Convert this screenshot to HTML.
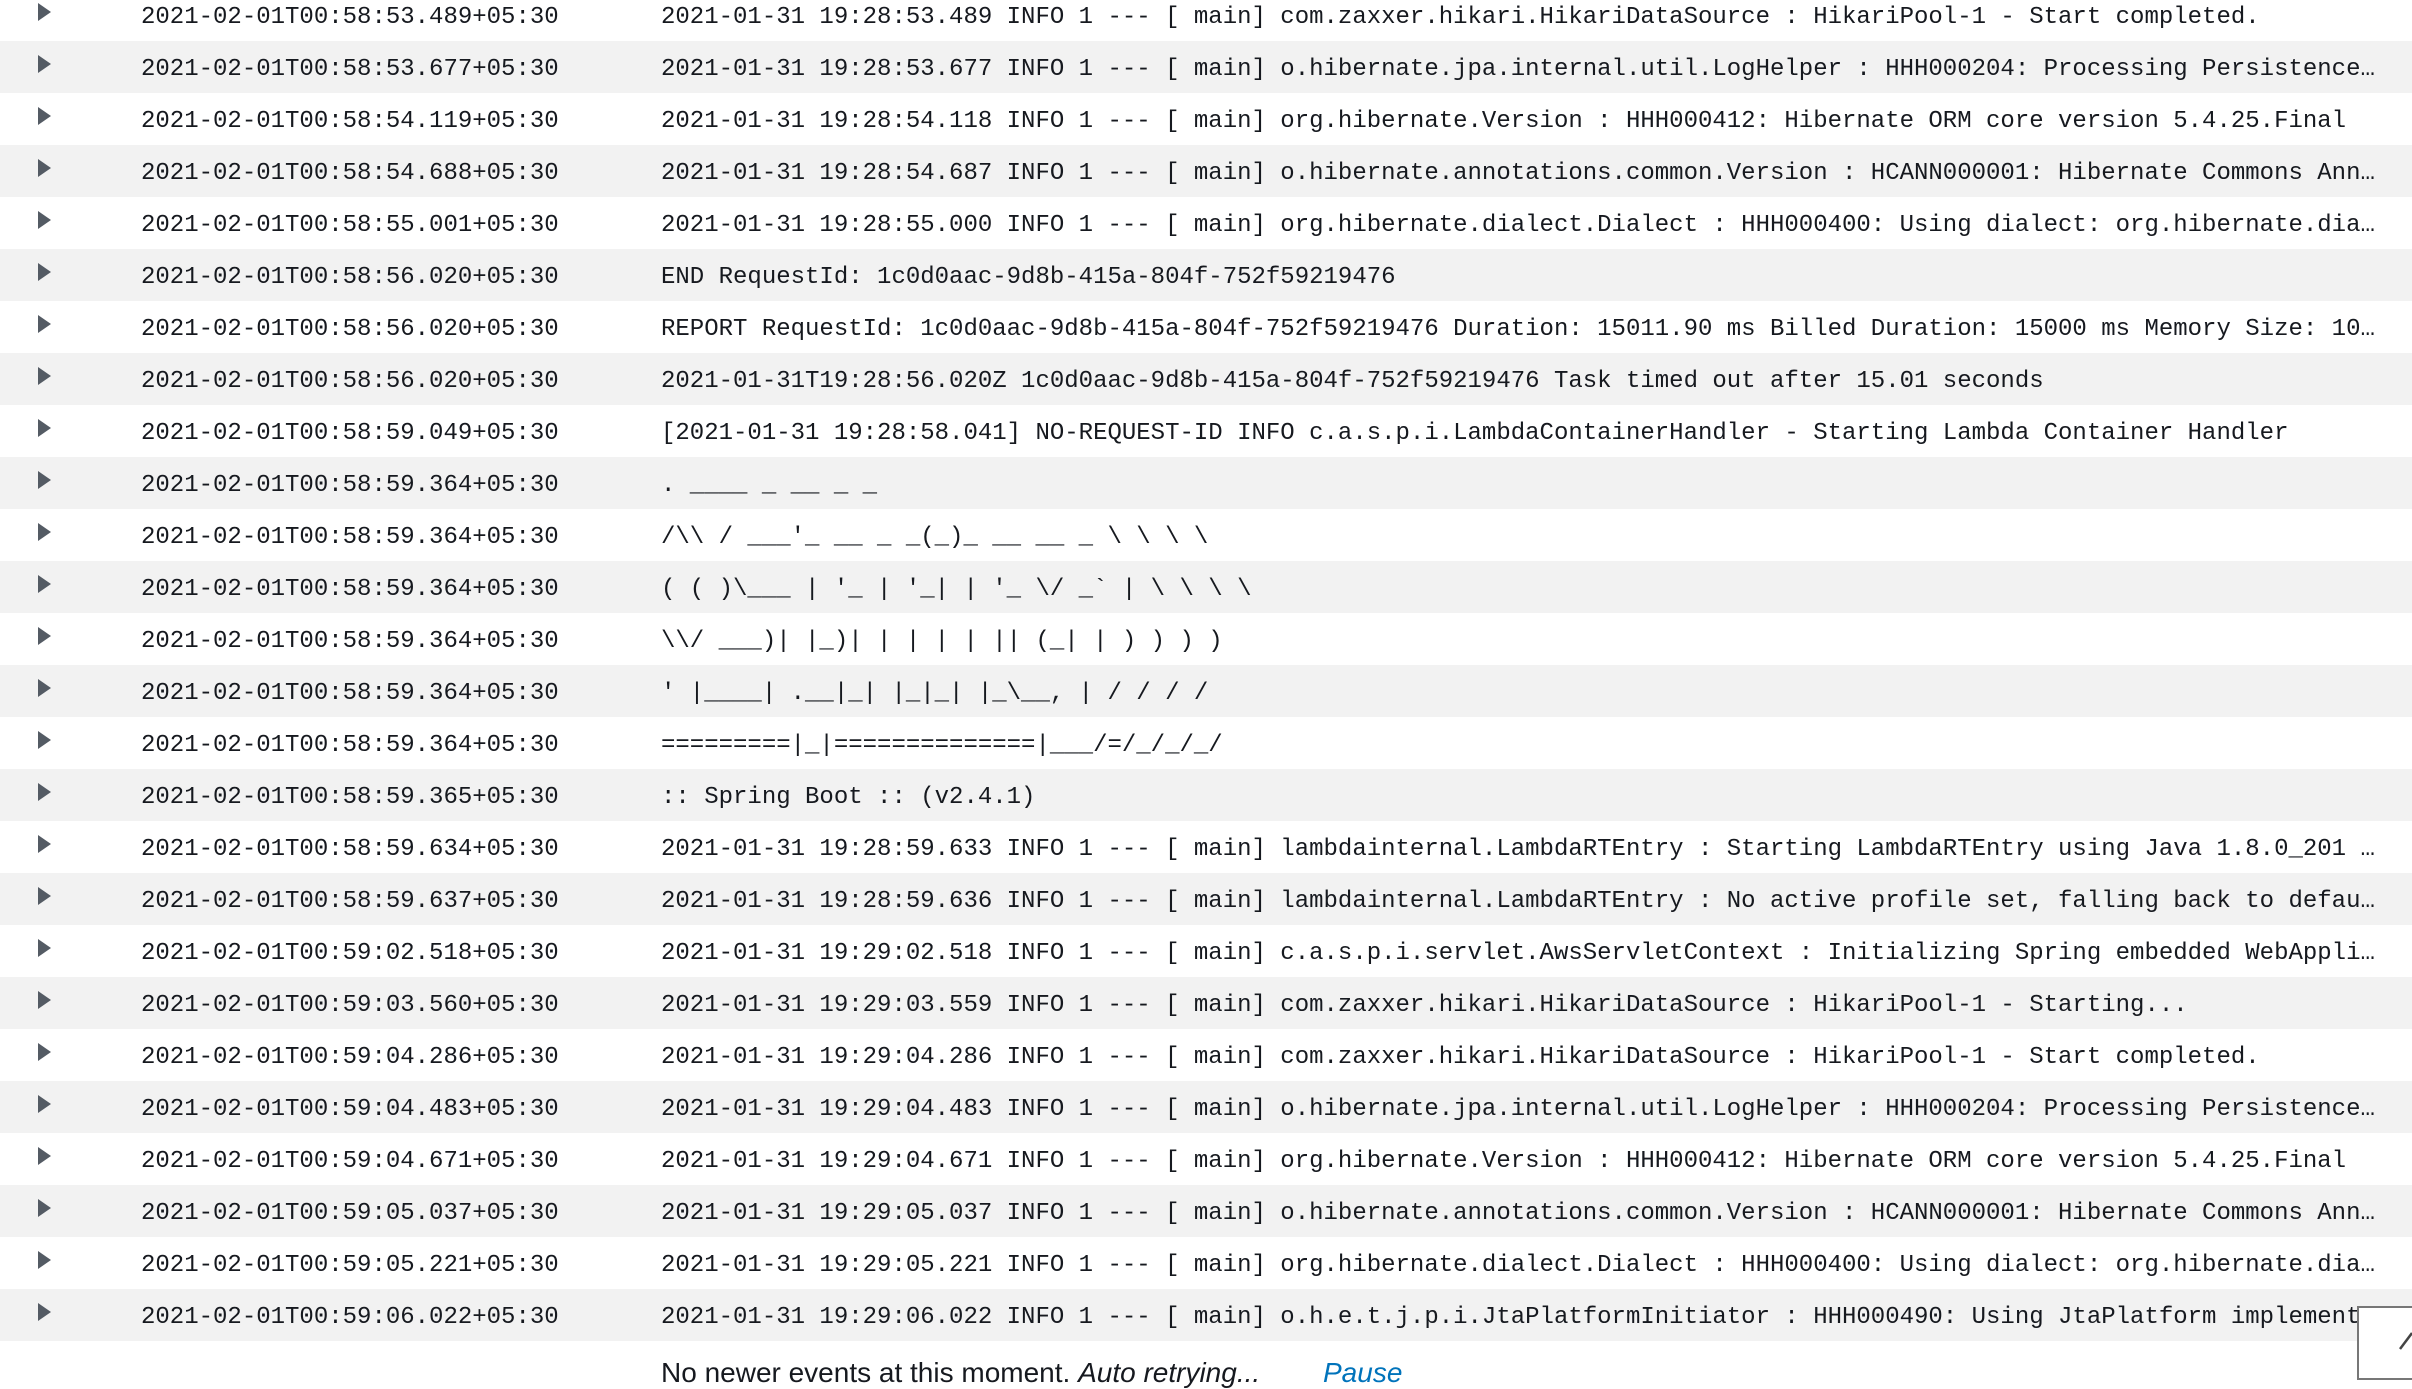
<!DOCTYPE html>
<html><head><meta charset="utf-8"><style>
html,body{margin:0;padding:0;width:2412px;height:1368px;overflow:hidden;background:#fff;}
.r{position:absolute;left:0;width:2412px;height:52px;line-height:52px;font-family:"Liberation Mono","DejaVu Sans Mono",monospace;font-size:24px;color:#16191f;white-space:nowrap;}
.g{background:#f2f2f2;}
.a{position:absolute;left:38px;top:14px;width:0;height:0;border-top:9px solid transparent;border-bottom:9px solid transparent;border-left:13px solid #545b64;}
.t{position:absolute;left:141px;top:3px;}
.m{position:absolute;left:661px;top:3px;width:1716px;overflow:hidden;text-overflow:ellipsis;}
</style></head><body>
<div class="r" style="top:-11px"><i class="a"></i><span class="t">2021-02-01T00:58:53.489+05:30</span><span class="m">2021-01-31 19:28:53.489 INFO 1 --- [ main] com.zaxxer.hikari.HikariDataSource : HikariPool-1 - Start completed.</span></div>
<div class="r g" style="top:41px"><i class="a"></i><span class="t">2021-02-01T00:58:53.677+05:30</span><span class="m">2021-01-31 19:28:53.677 INFO 1 --- [ main] o.hibernate.jpa.internal.util.LogHelper : HHH000204: Processing PersistenceUnitInfo</span></div>
<div class="r" style="top:93px"><i class="a"></i><span class="t">2021-02-01T00:58:54.119+05:30</span><span class="m">2021-01-31 19:28:54.118 INFO 1 --- [ main] org.hibernate.Version : HHH000412: Hibernate ORM core version 5.4.25.Final</span></div>
<div class="r g" style="top:145px"><i class="a"></i><span class="t">2021-02-01T00:58:54.688+05:30</span><span class="m">2021-01-31 19:28:54.687 INFO 1 --- [ main] o.hibernate.annotations.common.Version : HCANN000001: Hibernate Commons Annotations</span></div>
<div class="r" style="top:197px"><i class="a"></i><span class="t">2021-02-01T00:58:55.001+05:30</span><span class="m">2021-01-31 19:28:55.000 INFO 1 --- [ main] org.hibernate.dialect.Dialect : HHH000400: Using dialect: org.hibernate.dialect.MySQL</span></div>
<div class="r g" style="top:249px"><i class="a"></i><span class="t">2021-02-01T00:58:56.020+05:30</span><span class="m">END RequestId: 1c0d0aac-9d8b-415a-804f-752f59219476</span></div>
<div class="r" style="top:301px"><i class="a"></i><span class="t">2021-02-01T00:58:56.020+05:30</span><span class="m">REPORT RequestId: 1c0d0aac-9d8b-415a-804f-752f59219476 Duration: 15011.90 ms Billed Duration: 15000 ms Memory Size: 1024 MB</span></div>
<div class="r g" style="top:353px"><i class="a"></i><span class="t">2021-02-01T00:58:56.020+05:30</span><span class="m">2021-01-31T19:28:56.020Z 1c0d0aac-9d8b-415a-804f-752f59219476 Task timed out after 15.01 seconds</span></div>
<div class="r" style="top:405px"><i class="a"></i><span class="t">2021-02-01T00:58:59.049+05:30</span><span class="m">[2021-01-31 19:28:58.041] NO-REQUEST-ID INFO c.a.s.p.i.LambdaContainerHandler - Starting Lambda Container Handler</span></div>
<div class="r g" style="top:457px"><i class="a"></i><span class="t">2021-02-01T00:58:59.364+05:30</span><span class="m">. ____ _ __ _ _</span></div>
<div class="r" style="top:509px"><i class="a"></i><span class="t">2021-02-01T00:58:59.364+05:30</span><span class="m">/\\ / ___'_ __ _ _(_)_ __ __ _ \ \ \ \</span></div>
<div class="r g" style="top:561px"><i class="a"></i><span class="t">2021-02-01T00:58:59.364+05:30</span><span class="m">( ( )\___ | '_ | '_| | '_ \/ _` | \ \ \ \</span></div>
<div class="r" style="top:613px"><i class="a"></i><span class="t">2021-02-01T00:58:59.364+05:30</span><span class="m">\\/ ___)| |_)| | | | | || (_| | ) ) ) )</span></div>
<div class="r g" style="top:665px"><i class="a"></i><span class="t">2021-02-01T00:58:59.364+05:30</span><span class="m">' |____| .__|_| |_|_| |_\__, | / / / /</span></div>
<div class="r" style="top:717px"><i class="a"></i><span class="t">2021-02-01T00:58:59.364+05:30</span><span class="m">=========|_|==============|___/=/_/_/_/</span></div>
<div class="r g" style="top:769px"><i class="a"></i><span class="t">2021-02-01T00:58:59.365+05:30</span><span class="m">:: Spring Boot :: (v2.4.1)</span></div>
<div class="r" style="top:821px"><i class="a"></i><span class="t">2021-02-01T00:58:59.634+05:30</span><span class="m">2021-01-31 19:28:59.633 INFO 1 --- [ main] lambdainternal.LambdaRTEntry : Starting LambdaRTEntry using Java 1.8.0_201 on</span></div>
<div class="r g" style="top:873px"><i class="a"></i><span class="t">2021-02-01T00:58:59.637+05:30</span><span class="m">2021-01-31 19:28:59.636 INFO 1 --- [ main] lambdainternal.LambdaRTEntry : No active profile set, falling back to default</span></div>
<div class="r" style="top:925px"><i class="a"></i><span class="t">2021-02-01T00:59:02.518+05:30</span><span class="m">2021-01-31 19:29:02.518 INFO 1 --- [ main] c.a.s.p.i.servlet.AwsServletContext : Initializing Spring embedded WebApplication</span></div>
<div class="r g" style="top:977px"><i class="a"></i><span class="t">2021-02-01T00:59:03.560+05:30</span><span class="m">2021-01-31 19:29:03.559 INFO 1 --- [ main] com.zaxxer.hikari.HikariDataSource : HikariPool-1 - Starting...</span></div>
<div class="r" style="top:1029px"><i class="a"></i><span class="t">2021-02-01T00:59:04.286+05:30</span><span class="m">2021-01-31 19:29:04.286 INFO 1 --- [ main] com.zaxxer.hikari.HikariDataSource : HikariPool-1 - Start completed.</span></div>
<div class="r g" style="top:1081px"><i class="a"></i><span class="t">2021-02-01T00:59:04.483+05:30</span><span class="m">2021-01-31 19:29:04.483 INFO 1 --- [ main] o.hibernate.jpa.internal.util.LogHelper : HHH000204: Processing PersistenceUnitInfo</span></div>
<div class="r" style="top:1133px"><i class="a"></i><span class="t">2021-02-01T00:59:04.671+05:30</span><span class="m">2021-01-31 19:29:04.671 INFO 1 --- [ main] org.hibernate.Version : HHH000412: Hibernate ORM core version 5.4.25.Final</span></div>
<div class="r g" style="top:1185px"><i class="a"></i><span class="t">2021-02-01T00:59:05.037+05:30</span><span class="m">2021-01-31 19:29:05.037 INFO 1 --- [ main] o.hibernate.annotations.common.Version : HCANN000001: Hibernate Commons Annotations</span></div>
<div class="r" style="top:1237px"><i class="a"></i><span class="t">2021-02-01T00:59:05.221+05:30</span><span class="m">2021-01-31 19:29:05.221 INFO 1 --- [ main] org.hibernate.dialect.Dialect : HHH000400: Using dialect: org.hibernate.dialect.MySQL</span></div>
<div class="r g" style="top:1289px"><i class="a"></i><span class="t">2021-02-01T00:59:06.022+05:30</span><span class="m">2021-01-31 19:29:06.022 INFO 1 --- [ main] o.h.e.t.j.p.i.JtaPlatformInitiator : HHH000490: Using JtaPlatform implementation</span></div>
<div style="position:absolute;left:661px;top:1357px;font-family:'Liberation Sans',sans-serif;font-size:28px;line-height:32px;color:#16191f;white-space:nowrap;">No newer events at this moment. <i>Auto retrying...</i></div>
<div style="position:absolute;left:1323px;top:1357px;font-family:'Liberation Sans',sans-serif;font-size:28px;line-height:32px;color:#0073bb;font-style:italic;">Pause</div>
<div style="position:absolute;left:2357px;top:1306px;width:60px;height:70px;border:2px solid #777;background:#fff;"></div>
<svg style="position:absolute;left:0;top:0" width="2412" height="1368"><line x1="2400" y1="1349" x2="2412" y2="1333" stroke="#444" stroke-width="2.5"/></svg>
</body></html>
